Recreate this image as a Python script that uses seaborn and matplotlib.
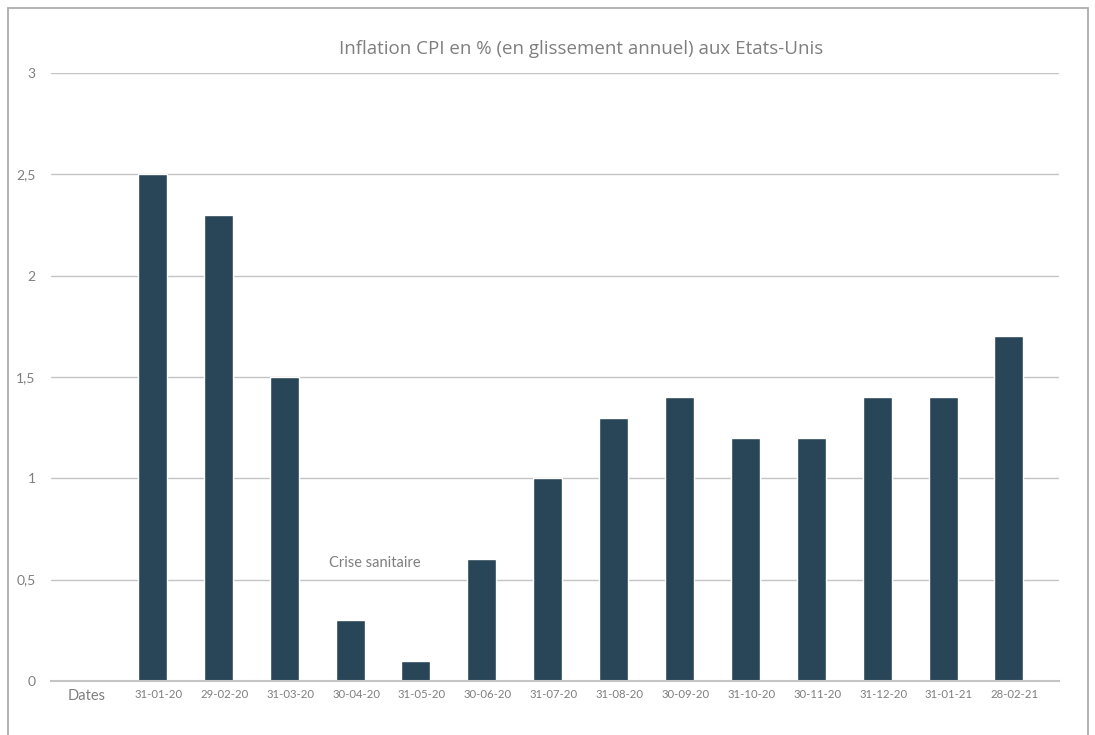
import pandas as pd
import matplotlib.pyplot as plt
import matplotlib.transforms as mtransforms
import seaborn as sns
from matplotlib.patches import Rectangle
from matplotlib.ticker import FuncFormatter

dates = ['31-01-20', '29-02-20', '31-03-20', '30-04-20', '31-05-20', '30-06-20',
         '31-07-20', '31-08-20', '30-09-20', '31-10-20', '30-11-20', '31-12-20',
         '31-01-21', '28-02-21']
inflation = [2.5, 2.3, 1.5, 0.3, 0.1, 0.6, 1.0, 1.3, 1.4, 1.2, 1.2, 1.4, 1.4, 1.7]
categories = ['Dates'] + dates

df = pd.DataFrame({'date': dates, 'cpi': inflation})

sns.set_style('white')
plt.rcParams['font.family'] = ['Lato', 'DejaVu Sans']
grey = '#7f7f7f'

fig = plt.figure(figsize=(10.95, 7.35), dpi=100)
ax = fig.add_axes([51 / 1095, 0.0735, 1008 / 1095, 0.8272])

sns.barplot(data=df, x='date', y='cpi', order=categories, color='#294658',
            saturation=1, width=0.44, ax=ax)

ax.set_ylim(0, 3)
ax.set_xlim(-0.54, 14.76)
ax.set_yticks([0, 0.5, 1, 1.5, 2, 2.5, 3])
ax.yaxis.set_major_formatter(FuncFormatter(lambda v, p: f'{v:g}'.replace('.', ',')))
ax.yaxis.grid(True, color='#c4c4c4', linewidth=1)
ax.set_axisbelow(True)
for s in ['top', 'right', 'left']:
    ax.spines[s].set_visible(False)
ax.spines['bottom'].set_color('#c4c4c4')
ax.spines['bottom'].set_linewidth(1.5)
ax.tick_params(axis='both', length=0, colors=grey)
ax.tick_params(axis='y', labelsize=10, pad=11)
ax.tick_params(axis='x', labelsize=8.2, pad=6)
shift = mtransforms.ScaledTranslation(6 / 100, 0, fig.dpi_scale_trans)
for lbl in ax.get_xticklabels():
    if lbl.get_text() == 'Dates':
        lbl.set_fontsize(10.5)
    else:
        lbl.set_transform(lbl.get_transform() + shift)
ax.set_xlabel('')
ax.set_ylabel('')

ax.text(4.38, 0.58, 'Crise sanitaire', ha='center', va='center',
        fontsize=10.5, color=grey)

fig.text(0.531, 0.934, 'Inflation CPI en % (en glissement annuel) aux Etats-Unis',
         ha='center', va='center', fontsize=13.5, color=grey, family=['Open Sans', 'DejaVu Sans'])

fig.patches.append(Rectangle((8 / 1095, -0.05), 1080 / 1095, 1.05 - 8 / 735,
                             transform=fig.transFigure, fill=False,
                             edgecolor='#a6a6a6', linewidth=1.2))

fig.savefig('out.png', dpi=100)
